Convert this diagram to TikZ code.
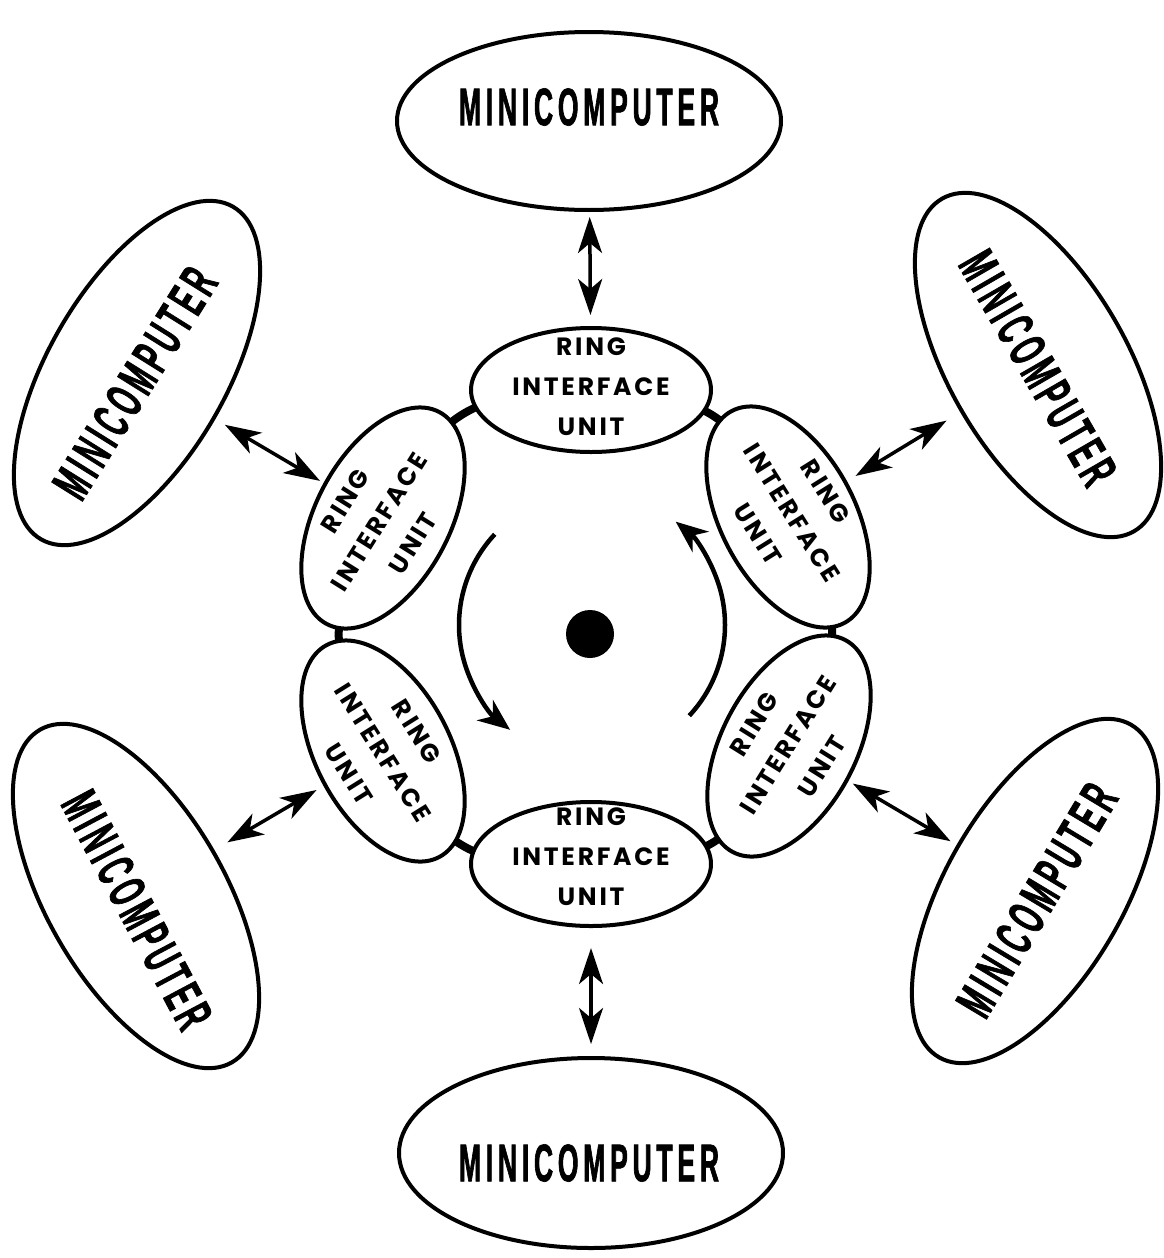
\documentclass[tikz,border=0pt]{standalone}
\usepackage{fontspec}
\usetikzlibrary{shapes.geometric,arrows.meta,backgrounds}
\newfontfamily\mcfont{Liberation Sans}[FakeStretch=0.5,LetterSpace=9,BoldFeatures={FakeBold=1.2}]
\newfontfamily\riufont{Poppins}[LetterSpace=11]
\begin{document}
\begin{tikzpicture}[x=1pt,y=-1pt,
  mcbox/.style={ellipse,draw,line width=4pt,fill=white,minimum width=384pt,minimum height=178pt,inner sep=0pt},
  riubox/.style={ellipse,draw,line width=4pt,fill=white,minimum width=240pt,minimum height=124pt,inner sep=0pt},
  riuside/.style={riubox,minimum height=134pt},
  mclabel/.style={font=\mcfont\bfseries\fontsize{53}{60}\selectfont,inner sep=0pt},
  riulabel/.style={font=\riufont\bfseries\fontsize{25}{40}\selectfont,align=center,inner sep=0pt},
  link/.style={line width=3.5pt,{Stealth[length=36pt,width=24pt,inset=10pt]}-{Stealth[length=36pt,width=24pt,inset=10pt]}},
  ringline/.style={line width=8pt},
  flow/.style={line width=4.5pt,-{Stealth[length=32pt,width=26pt,inset=10pt]}}]
\useasboundingbox (0,0) rectangle (1163,1258);

% minicomputers
\node[mcbox] (mcT) at (589,121) {};
\node[mclabel] (mcTtext) at (589,107) {MINICOMPUTER};
\node[mcbox,rotate=60] (mcUL) at (137,373) {};
\node[mclabel,rotate=58] (mcULtext) at (135,383) {MINICOMPUTER};
\node[mcbox,rotate=-60] (mcUR) at (1038,365) {};
\node[mclabel,rotate=-60] (mcURtext) at (1038,368) {MINICOMPUTER};
\node[mcbox,rotate=-60] (mcLL) at (136,896) {};
\node[mclabel,rotate=-62] (mcLLtext) at (137,910) {MINICOMPUTER};
\node[mcbox,rotate=60] (mcLR) at (1035,891) {};
\node[mclabel,rotate=59] (mcLRtext) at (1037,900) {MINICOMPUTER};
\node[mcbox,minimum height=190pt] (mcB) at (591,1153) {};
\node[mclabel] (mcBtext) at (589,1163) {MINICOMPUTER};

% ring interface units
\node[riubox] (riuT) at (591,390) {};
\node[riulabel] (riuTtext) at (591,387) {RING\\INTERFACE\\UNIT};
\node[riuside,rotate=62] (riuUL) at (383,518) {};
\node[riulabel,rotate=58] (riuULtext) at (379,522) {RING\\INTERFACE\\UNIT};
\node[riuside,rotate=-62] (riuUR) at (788,517) {};
\node[riulabel,rotate=-58] (riuURtext) at (792,513) {RING\\INTERFACE\\UNIT};
\node[riuside,rotate=-62] (riuLL) at (383,751) {};
\node[riulabel,rotate=-58] (riuLLtext) at (383,753) {RING\\INTERFACE\\UNIT};
\node[riuside,rotate=62] (riuLR) at (789,746) {};
\node[riulabel,rotate=58] (riuLRtext) at (788,745) {RING\\INTERFACE\\UNIT};
\node[riubox] (riuB) at (591,864) {};
\node[riulabel] (riuBtext) at (591,857) {RING\\INTERFACE\\UNIT};

% the ring itself, hidden under the unit ellipses
\begin{scope}[on background layer]
  \draw[ringline] (riuT.center) to[bend right=30,looseness=1.3] (riuUL.center)
    to[bend right=30,looseness=1.3] (riuLL.center)
    to[bend right=30,looseness=1.3] (riuB.center)
    to[bend right=30,looseness=1.3] (riuLR.center)
    to[bend right=30,looseness=1.3] (riuUR.center)
    to[bend right=30,looseness=1.3] (riuT.center);
\end{scope}

% hub and direction of circulation
\node[circle,fill,inner sep=0pt,minimum size=48pt] (hub) at (590,634) {};
\coordinate (flowc) at (592,625);
\draw[flow] ([shift={(-137:133)}]flowc) arc[start angle=-137,end angle=-232,radius=133];
\draw[flow] ([shift={(43:133)}]flowc) arc[start angle=43,end angle=-51,radius=133];

% links between each computer and its interface unit
\draw[link,shorten <=5pt,shorten >=11pt] (mcT) -- (riuT);
\draw[link,shorten <=11pt,shorten >=4pt] (mcUL) -- (riuUL);
\draw[link,shorten <=16pt,shorten >=10pt] (mcUR) -- (riuUR);
\draw[link,shorten <=15pt,shorten >=8pt] (mcLL) -- (riuLL);
\draw[link,shorten <=7pt,shorten >=5pt] (mcLR) -- (riuLR);
\draw[link,shorten <=12pt,shorten >=20pt] (mcB) -- (riuB);
\end{tikzpicture}
\end{document}
